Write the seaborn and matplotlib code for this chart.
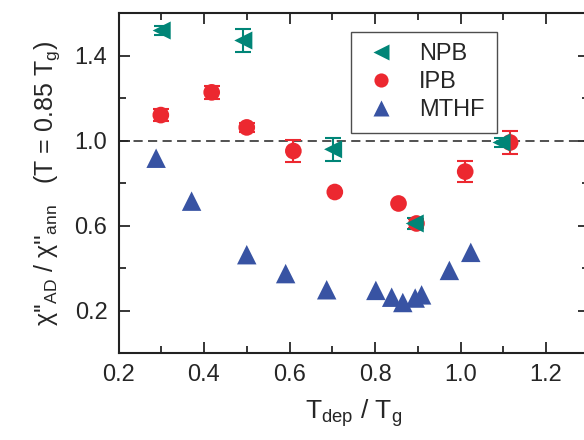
import numpy as np
import pandas as pd
import matplotlib
matplotlib.use("Agg")
import matplotlib.pyplot as plt
from matplotlib.lines import Line2D
from matplotlib.ticker import MultipleLocator
import seaborn as sns

# ---- data ----
npb_x = [0.301, 0.492, 0.702, 0.893, 1.096]
npb_y = [1.519, 1.472, 0.960, 0.611, 0.992]
npb_err = [0.02, 0.055, 0.055, 0.025, 0.02]

ipb_x = [0.299, 0.418, 0.500, 0.609, 0.706, 0.855, 0.897, 1.011, 1.116]
ipb_y = [1.121, 1.228, 1.063, 0.952, 0.759, 0.705, 0.611, 0.855, 0.992]
ipb_err = [0.03, 0.03, 0.02, 0.05, 0.0, 0.0, 0.02, 0.05, 0.055]

mthf_x = [0.288, 0.371, 0.500, 0.591, 0.687, 0.802, 0.839, 0.865, 0.894, 0.909, 0.974, 1.024]
mthf_y = [0.918, 0.716, 0.464, 0.375, 0.299, 0.296, 0.264, 0.239, 0.260, 0.275, 0.390, 0.475]

series_names = ["NPB", "IPB", "MTHF"]
colors = {"NPB": "#008577", "IPB": "#EC2830", "MTHF": "#3853A3"}
markers = {"NPB": "<", "IPB": "o", "MTHF": "^"}
msizes = {"NPB": 13, "IPB": 12, "MTHF": 14}

sns.set_style("ticks")
plt.rcParams["font.family"] = ["Liberation Sans", "DejaVu Sans"]
plt.rcParams["mathtext.fontset"] = "custom"
plt.rcParams["mathtext.rm"] = "Liberation Sans"
plt.rcParams["mathtext.it"] = "Liberation Sans"

fig = plt.figure(figsize=(5.84, 4.40), dpi=100)
ax = fig.add_axes([118.5 / 584, 1 - 353.3 / 440, (588.75 - 118.5) / 584, (353.3 - 13.3) / 440])

ax.axhline(1.0, color="#222222", lw=1.1, ls=(0, (6, 3.5)), zorder=1)

df_m = pd.DataFrame({"x": mthf_x, "y": mthf_y})
df_i = pd.DataFrame({"x": ipb_x, "y": ipb_y, "e": ipb_err})
df_n = pd.DataFrame({"x": npb_x, "y": npb_y, "e": npb_err})

sns.scatterplot(data=df_m, x="x", y="y", marker="^", s=msizes["MTHF"] ** 2,
                color=colors["MTHF"], edgecolor="none", ax=ax, zorder=3, legend=False)

for df, name in [(df_i, "IPB"), (df_n, "NPB")]:
    sub = df[df["e"] > 0]
    ax.errorbar(sub["x"], sub["y"], yerr=sub["e"], fmt="none", ecolor=colors[name],
                elinewidth=1.5, capsize=5.5, capthick=1.5, zorder=4)
    sns.scatterplot(data=df, x="x", y="y", marker=markers[name], s=msizes[name] ** 2,
                    color=colors[name], edgecolor="none", ax=ax, zorder=5, legend=False)

ax.set_xlim(0.2, 1.3)
ax.set_ylim(0.0, 1.6)
ax.xaxis.set_major_locator(MultipleLocator(0.2))
ax.xaxis.set_minor_locator(MultipleLocator(0.1))
ax.set_yticks([0.2, 0.6, 1.0, 1.4])
ax.yaxis.set_minor_locator(MultipleLocator(0.2))
ax.tick_params(which="both", direction="in", top=True, right=True, width=1.3)
ax.tick_params(which="major", length=8, labelsize=17, pad=8)
ax.tick_params(which="minor", length=5)
for s in ax.spines.values():
    s.set_linewidth(1.5)
    s.set_color("#222222")
ax.spines["right"].set_visible(True)
ax.spines["top"].set_visible(True)

ax.set_xlabel(r"T$_{\rm dep}$ / T$_{\rm g}$", fontsize=19, labelpad=8)
ax.set_ylabel(r"$\chi$''$_{\rm AD}$ / $\chi$''$_{\rm ann}$   (T = 0.85 T$_{\rm g}$)", fontsize=18, labelpad=9)

handles = [Line2D([], [], ls="none", marker=markers[n], color=colors[n], markersize=msizes[n] * 0.85,
                  markeredgecolor="none") for n in series_names]
leg = ax.legend(handles, series_names, loc="upper left", bbox_to_anchor=(0.494, 0.946),
                borderaxespad=0, frameon=True, fancybox=False, fontsize=17,
                handletextpad=0.8, labelspacing=0.25, borderpad=0.5, handlelength=1.6)
leg.get_frame().set_edgecolor("#222222")
leg.get_frame().set_linewidth(1.0)

fig.savefig("out.png", dpi=100)
